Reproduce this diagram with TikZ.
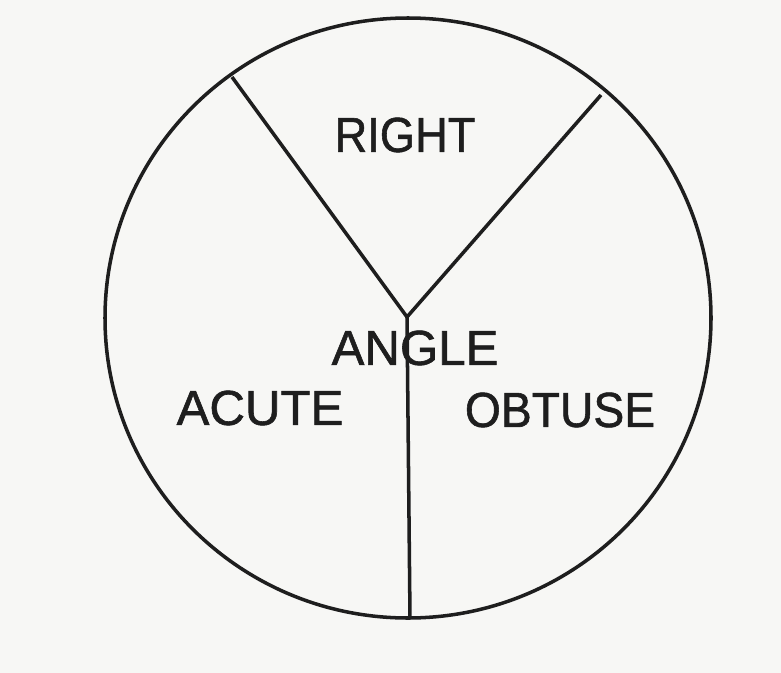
\documentclass[tikz,border=0pt]{standalone}
\usepackage{fontspec}
\setmainfont{Liberation Sans}
\newfontfamily\lblfont[FakeBold=1.2]{Liberation Sans}
\definecolor{paper}{HTML}{F7F7F5}
\definecolor{ink}{HTML}{1E1E1E}
\begin{document}
\begin{tikzpicture}[x=0.03cm,y=-0.03cm,
  ink line/.style={draw=ink,line width=3pt},
  label/.style={text=ink,inner sep=0pt,font=\lblfont\fontsize{42}{46}\selectfont}]
\fill[paper] (0,0) rectangle (781,673);
\useasboundingbox (0,0) rectangle (781,673);
\draw[ink line] (408,318) ellipse [x radius=303, y radius=300];
\coordinate (v) at (407,317);
\coordinate (ul) at (232,77);
\coordinate (ur) at (601,95);
\coordinate (bot) at (410,618);
\draw[ink line,line join=miter] (ul) -- (v) -- (ur);
\draw[ink line] (v) -- (bot);
\node[label,xscale=0.92] (right) at (405,135) {RIGHT};
\node[label] (angle) at (415,348) {ANGLE};
\node[label] (acute) at (260,408) {ACUTE};
\node[label,xscale=0.94] (obtuse) at (560,410) {OBTUSE};
\end{tikzpicture}
\end{document}
